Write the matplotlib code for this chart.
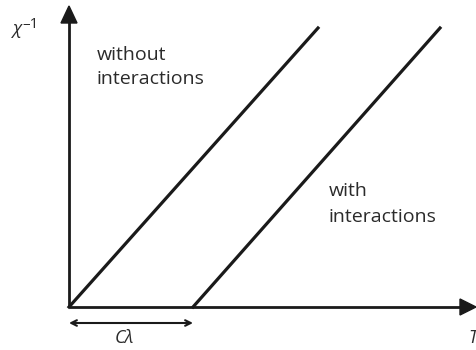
import matplotlib.pyplot as plt
from matplotlib.patches import Polygon

plt.rcParams['font.family'] = ['Open Sans', 'DejaVu Sans']

# Curie-Weiss: inverse susceptibility vs temperature (arbitrary units)
T_free = [0, 249]
chi_inv_free = [0, 279]
C_lambda = 124
T_int = [C_lambda, C_lambda + 247]
chi_inv_int = [0, 279]

fig = plt.figure(figsize=(4.77, 3.5), dpi=100)
ax = fig.add_axes([0, 0, 1, 1])
ax.set_xlim(-69, 408)
ax.set_ylim(-43, 307)
ax.axis('off')

k = '#1a1a1a'
txt = '#2b2b2b'
# axes with filled arrowheads
ax.plot([0, 393], [0, 0], color=k, lw=2, solid_capstyle='butt')
ax.plot([0, 0], [0, 286], color=k, lw=2, solid_capstyle='butt')
ax.add_patch(Polygon([[391, -8], [391, 8], [407, 0]], closed=True, color=k))
ax.add_patch(Polygon([[-8, 284], [8, 284], [0, 301]], closed=True, color=k))

ax.plot(T_free, chi_inv_free, color=k, lw=2.3)
ax.plot(T_int, chi_inv_int, color=k, lw=2.3)

# C lambda offset
ax.annotate('', xy=(0, -16), xytext=(C_lambda, -16),
            arrowprops=dict(arrowstyle='<->', color=k, lw=1.5,
                            shrinkA=0, shrinkB=0))
fs = 13
ax.text(55, -31, 'Cλ', ha='center', va='center', fontsize=fs, style='italic', color=txt)
ax.text(404, -31, 'T', ha='center', va='center', fontsize=fs, style='italic', color=txt)
ax.text(-52, 278, 'χ', ha='center', va='center', fontsize=fs, style='italic', color=txt)
ax.text(-47, 282, '–1', ha='left', va='center', fontsize=11, color=txt)

fs2 = 14
ax.text(28, 247, 'without', ha='left', va='baseline', fontsize=fs2, color=txt)
ax.text(28, 223, 'interactions', ha='left', va='baseline', fontsize=fs2, color=txt)
ax.text(260, 111, 'with', ha='left', va='baseline', fontsize=fs2, color=txt)
ax.text(260, 85, 'interactions', ha='left', va='baseline', fontsize=fs2, color=txt)

fig.savefig('out.png', dpi=100)
